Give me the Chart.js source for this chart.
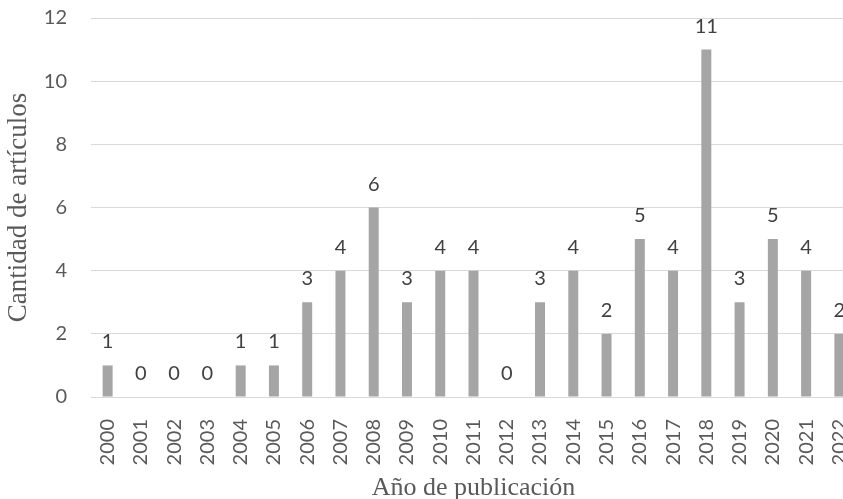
<!DOCTYPE html>
<html>
<head>
<meta charset="utf-8">
<script src="https://cdn.jsdelivr.net/npm/chart.js@4/dist/chart.umd.min.js"></script>
<style>
  html, body { margin: 0; padding: 0; background: #ffffff; overflow: hidden; }
  #wrap { width: 856px; height: 499px; }
</style>
</head>
<body>
<div id="wrap"><canvas id="c" width="856" height="499"></canvas></div>
<script>
const years = ["2000","2001","2002","2003","2004","2005","2006","2007","2008","2009","2010","2011","2012","2013","2014","2015","2016","2017","2018","2019","2020","2021","2022"];
const articleCounts = [1,0,0,0,1,1,3,4,6,3,4,4,0,3,4,2,5,4,11,3,5,4,2];
const yTicks = [0,2,4,6,8,10,12];
const xTitle = "Año de publicación";
const yTitle = "Cantidad de artículos";

const tickFont = { family: "Lato, 'Liberation Sans', sans-serif", size: 20 };
const titleFontY = { family: "'Liberation Serif', 'DejaVu Serif', serif", size: 27 };
const titleFontX = { family: "'Liberation Serif', 'DejaVu Serif', serif", size: 26, lineHeight: 0.85 };

const valueLabels = {
  id: 'valueLabels',
  afterDatasetsDraw(chart) {
    const ctx = chart.ctx;
    const meta = chart.getDatasetMeta(0);
    ctx.save();
    ctx.font = tickFont.size + "px " + tickFont.family;
    ctx.fillStyle = '#404040';
    ctx.textAlign = 'center';
    ctx.textBaseline = 'alphabetic';
    meta.data.forEach((bar, i) => {
      ctx.fillText(String(articleCounts[i]), bar.x, bar.y - 17);
    });
    ctx.restore();
  }
};

new Chart(document.getElementById('c'), {
  type: 'bar',
  data: {
    labels: years,
    datasets: [{
      data: articleCounts,
      backgroundColor: '#a5a5a5',
      borderWidth: 0,
      barPercentage: 0.3,
      categoryPercentage: 1.0
    }]
  },
  options: {
    responsive: false,
    animation: false,
    layout: { padding: { top: 18, right: 0, bottom: 0, left: 0 } },
    plugins: { legend: { display: false }, tooltip: { enabled: false } },
    scales: {
      x: {
        offset: true,
        grid: { display: false },
        border: { display: false },
        ticks: {
          font: tickFont, color: '#595959',
          maxRotation: 90, minRotation: 90, padding: 14, autoSkip: false
        },
        title: {
          display: true, text: xTitle, font: titleFontX, color: '#595959',
          padding: { top: 0, bottom: 0 }
        },
        afterFit: s => { s.height = 102; s.paddingLeft = 0; s.paddingRight = 0; }
      },
      y: {
        min: 0, max: 12,
        afterBuildTicks: s => { s.ticks = yTicks.map(v => ({ value: v })); },
        grid: { color: '#d9d9d9', lineWidth: 1, drawTicks: false },
        border: { display: false },
        ticks: { font: tickFont, color: '#595959', padding: 24 },
        title: {
          display: true, text: yTitle, font: titleFontY, color: '#595959',
          padding: { top: 3, bottom: 0 }
        },
        afterFit: s => { s.width = 91; s.paddingTop = 0; s.paddingBottom = 0; }
      }
    }
  },
  plugins: [valueLabels]
});
</script>
</body>
</html>
